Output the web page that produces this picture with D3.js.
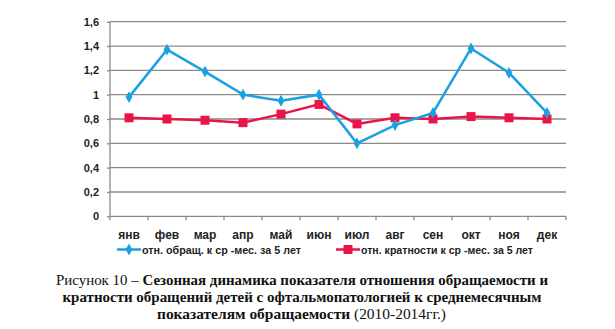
<!DOCTYPE html>
<html><head><meta charset="utf-8">
<script src="https://cdn.jsdelivr.net/npm/d3@7"></script>
<style>
body{margin:0;background:#fff;}
svg{display:block;}
</style></head>
<body>
<svg id="chart" width="615" height="329"></svg>
<script>
const months = ["янв","фев","мар","апр","май","июн","июл","авг","сен","окт","ноя","дек"];
const visits = [0.98,1.37,1.19,1.0,0.95,1.0,0.6,0.75,0.85,1.38,1.18,0.85];
const multiplicity = [0.81,0.80,0.79,0.77,0.84,0.92,0.76,0.81,0.80,0.82,0.81,0.80];
const yTicks = [0,0.2,0.4,0.6,0.8,1,1.2,1.4,1.6];
const seriesNames = ["отн. обращ. к ср -мес. за 5 лет","отн. кратности к ср -мес. за 5 лет"];

const svg = d3.select("#chart");
const plotLeft = 110, plotRight = 566, plotTop = 21.7, plotBottom = 216.3;
const x = d3.scaleBand().domain(months).range([plotLeft, plotRight]);
const y = d3.scaleLinear().domain([0, 1.6]).range([plotBottom, plotTop]);
const fmt = d => String(d).replace(".", ",");
const sans = "Arial, 'Liberation Sans', sans-serif";

// horizontal gridlines
svg.append("g").selectAll("line").data(yTicks.filter(d => d > 0)).join("line")
  .attr("x1", plotLeft).attr("x2", plotRight)
  .attr("y1", d => y(d)).attr("y2", d => y(d))
  .attr("stroke", "#8a8a8a").attr("stroke-width", 1.3);

// y axis
const yAxis = svg.append("g").attr("transform", `translate(${plotLeft},0)`)
  .call(d3.axisLeft(y).tickValues(yTicks).tickFormat(fmt).tickSize(3).tickPadding(8));
yAxis.select(".domain").attr("stroke", "#8a8a8a").attr("stroke-width", 1.3).attr("d", `M0,${plotTop}V${plotBottom}`);
yAxis.selectAll(".tick line").attr("stroke", "#8a8a8a").attr("stroke-width", 1.3);
yAxis.selectAll(".tick text").attr("font-family", sans)
  .attr("font-size", 11).attr("font-weight", "bold").attr("fill", "#222");

// x axis with ticks at category boundaries
const xg = svg.append("g").attr("transform", `translate(0,${plotBottom})`);
xg.append("line").attr("x1", plotLeft).attr("x2", plotRight).attr("stroke", "#8a8a8a").attr("stroke-width", 1.3);
const bounds = months.map(m => x(m)).concat([plotRight]);
xg.selectAll("line.tk").data(bounds).join("line").attr("class", "tk")
  .attr("x1", d => d).attr("x2", d => d).attr("y1", 0).attr("y2", 4)
  .attr("stroke", "#8a8a8a").attr("stroke-width", 1.3);
xg.selectAll("text").data(months).join("text")
  .attr("x", d => x(d) + x.bandwidth() / 2).attr("y", 22.5)
  .attr("text-anchor", "middle")
  .attr("font-family", sans)
  .attr("font-size", 12).attr("font-weight", "bold").attr("fill", "#222")
  .text(d => d);

const cx = d => x(d) + x.bandwidth() / 2;
const line = d3.line().x((d, i) => cx(months[i])).y(d => y(d));

const blue = "#1ba1e2", red = "#ea1448";

// multiplicity series (red squares)
svg.append("path").datum(multiplicity).attr("d", line)
  .attr("fill", "none").attr("stroke", red).attr("stroke-width", 2.5);
svg.append("g").selectAll("rect").data(multiplicity).join("rect")
  .attr("x", (d, i) => cx(months[i]) - 4.5).attr("y", d => y(d) - 4.5)
  .attr("width", 9).attr("height", 9).attr("fill", red);

// visits series (blue diamonds)
svg.append("path").datum(visits).attr("d", line)
  .attr("fill", "none").attr("stroke", blue).attr("stroke-width", 2.5);
svg.append("g").selectAll("path.m").data(visits).join("path").attr("class", "m")
  .attr("d", d3.symbol().type(d3.symbolDiamond).size(40))
  .attr("transform", (d, i) => `translate(${cx(months[i])},${y(d)})`)
  .attr("fill", blue);

// legend
const legend = svg.append("g").attr("transform", "translate(0,249.5)");
const legItems = [{x: 117, c: blue, sym: "d", w: 159}, {x: 336, c: red, sym: "s", w: 172}];
legItems.forEach((it, i) => {
  legend.append("line").attr("x1", it.x).attr("x2", it.x + 24).attr("y1", 0).attr("y2", 0)
    .attr("stroke", it.c).attr("stroke-width", 2.5);
  if (it.sym === "d") {
    legend.append("path").attr("d", d3.symbol().type(d3.symbolDiamond).size(40)())
      .attr("transform", `translate(${it.x + 12},0)`).attr("fill", it.c);
  } else {
    legend.append("rect").attr("x", it.x + 7.5).attr("y", -4.5).attr("width", 9).attr("height", 9).attr("fill", it.c);
  }
  legend.append("text").attr("x", it.x + 25).attr("y", 4)
    .attr("font-family", sans)
    .attr("font-size", 11).attr("font-weight", "bold").attr("fill", "#222")
    .attr("textLength", it.w).attr("lengthAdjust", "spacingAndGlyphs")
    .text(seriesNames[i]);
});

// caption
const cap = svg.append("g").attr("font-family", "'Times New Roman', 'Liberation Serif', serif")
  .attr("font-size", 14.5).attr("fill", "#111").attr("text-anchor", "middle");
const l1 = cap.append("text").attr("x", 302).attr("y", 284.5)
  .attr("textLength", 492).attr("lengthAdjust", "spacingAndGlyphs");
l1.append("tspan").text("Рисунок 10 – ");
l1.append("tspan").attr("font-weight", "bold").text("Сезонная динамика показателя отношения обращаемости и");
cap.append("text").attr("x", 302).attr("y", 301.5).attr("font-weight", "bold")
  .attr("textLength", 479).attr("lengthAdjust", "spacingAndGlyphs")
  .text("кратности обращений детей с офтальмопатологией к среднемесячным");
const l3 = cap.append("text").attr("x", 301.5).attr("y", 318.5)
  .attr("textLength", 289).attr("lengthAdjust", "spacingAndGlyphs");
l3.append("tspan").attr("font-weight", "bold").text("показателям обращаемости ");
l3.append("tspan").text("(2010-2014гг.)");
</script>
</body></html>
